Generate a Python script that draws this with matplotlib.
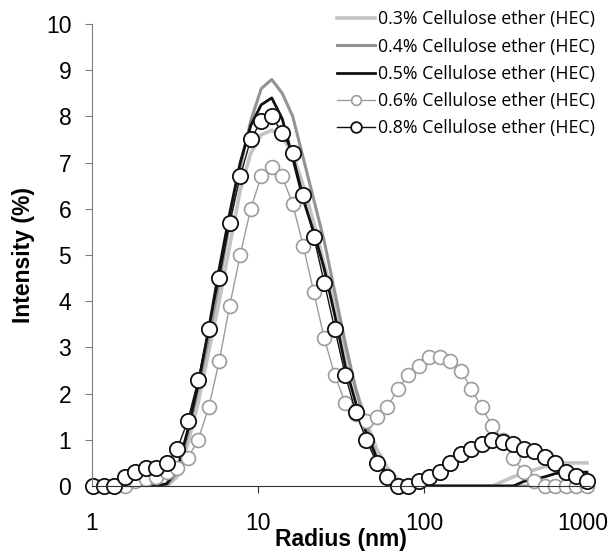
import matplotlib
matplotlib.use('Agg')
import matplotlib.pyplot as plt
import matplotlib.transforms as mtransforms

# size bins (radius, nm)
radius = [1.014, 1.173, 1.357, 1.570, 1.816, 2.101, 2.431, 2.812, 3.254, 3.764,
          4.355, 5.038, 5.829, 6.744, 7.802, 9.026, 10.44, 12.08, 13.98, 16.17,
          18.71, 21.64, 25.04, 28.97, 33.51, 38.77, 44.86, 51.90, 60.04, 69.46,
          80.35, 92.97, 107.5, 124.4, 143.9, 166.5, 192.7, 222.9, 257.9, 298.3,
          345.1, 399.3, 461.9, 534.4, 618.3, 715.3, 827.5, 957.4]

hec03 = [0, 0, 0, 0, 0, 0, 0, 0, 0.2, 0.9,
         1.8, 2.9, 4.0, 5.2, 6.4, 7.2, 7.6, 7.7, 7.55, 7.2,
         6.5, 5.7, 4.8, 3.9, 2.9, 2.1, 1.4, 0.8, 0.4, 0.15,
         0.05, 0, 0, 0, 0, 0, 0, 0, 0, 0.1,
         0.2, 0.28, 0.35, 0.42, 0.47, 0.5, 0.5, 0.5]
hec04 = [0, 0, 0, 0, 0, 0, 0, 0, 0.3, 1.1,
         2.1, 3.2, 4.4, 5.7, 6.9, 7.9, 8.6, 8.8, 8.5, 8.0,
         7.1, 6.2, 5.3, 4.2, 3.1, 2.1, 1.3, 0.6, 0.2, 0.05,
         0, 0, 0, 0, 0, 0, 0, 0, 0, 0,
         0, 0, 0, 0, 0, 0, 0, 0]
hec05 = [0, 0, 0, 0, 0, 0, 0, 0.05, 0.35, 1.2,
         2.2, 3.4, 4.7, 5.9, 7.0, 7.8, 8.25, 8.4, 7.95, 7.1,
         6.2, 5.5, 4.7, 3.7, 2.6, 1.8, 1.15, 0.6, 0.25, 0.08,
         0, 0, 0, 0, 0, 0, 0, 0, 0, 0,
         0, 0.1, 0.15, 0.2, 0.27, 0.3, 0.3, 0.3]
hec06 = [0, 0, 0, 0, 0.1, 0.15, 0.2, 0.3, 0.4, 0.6,
         1.0, 1.7, 2.7, 3.9, 5.0, 6.0, 6.7, 6.9, 6.7, 6.1,
         5.2, 4.2, 3.2, 2.4, 1.8, 1.55, 1.4, 1.5, 1.7, 2.1,
         2.4, 2.6, 2.8, 2.8, 2.7, 2.5, 2.1, 1.7, 1.3, 1.0,
         0.6, 0.3, 0.1, 0, 0, 0, 0, 0]
hec08 = [0, 0, 0, 0.2, 0.3, 0.4, 0.4, 0.5, 0.8, 1.4,
         2.3, 3.4, 4.5, 5.7, 6.7, 7.5, 7.9, 8.0, 7.65, 7.2,
         6.3, 5.4, 4.4, 3.4, 2.4, 1.6, 1.0, 0.5, 0.2, 0,
         0, 0.1, 0.2, 0.3, 0.5, 0.7, 0.8, 0.9, 1.0, 0.95,
         0.9, 0.8, 0.75, 0.63, 0.5, 0.3, 0.22, 0.1]

labels = ['0.3% Cellulose ether (HEC)', '0.4% Cellulose ether (HEC)',
          '0.5% Cellulose ether (HEC)', '0.6% Cellulose ether (HEC)',
          '0.8% Cellulose ether (HEC)']

plt.rcParams['font.family'] = ['Liberation Sans', 'DejaVu Sans']

fig = plt.figure(figsize=(6.14, 5.54), dpi=100)
ax = fig.add_axes([0.150, 0.1227, 0.811, 0.834])

ax.plot(radius, hec03, color='#c4c4c4', lw=2.6, label=labels[0])
ax.plot(radius, hec04, color='#939393', lw=2.2, label=labels[1])
ax.plot(radius, hec05, color='#111111', lw=2.0, label=labels[2])
ax.plot(radius, hec06, color='#9c9c9c', lw=1.0, marker='o', ms=10,
        mfc='white', mec='#9c9c9c', mew=1.2, clip_on=False, label=labels[3])
ax.plot(radius, hec08, color='#111111', lw=1.0, marker='o', ms=11,
        mfc='white', mec='#111111', mew=1.3, clip_on=False, label=labels[4])

ax.set_xscale('log')
ax.set_xlim(1, 1000)
ax.set_ylim(0, 10)
ax.set_yticks(range(0, 11))
ax.set_xticks([1, 10, 100, 1000])
ax.set_xticklabels(['1', '10', '100', '1000'])
ax.minorticks_off()

for s in ['top', 'right']:
    ax.spines[s].set_visible(False)
ax.spines['left'].set_color('#7f7f7f')
ax.spines['bottom'].set_color('#333333')
ax.tick_params(axis='y', direction='out', length=5, color='#7f7f7f',
               labelsize=16.5, pad=10)
ax.tick_params(axis='x', direction='out', length=5, color='#333333',
               labelsize=16.5, pad=14)

# last x label sits a bit left so it stays inside the figure
last = ax.get_xticklabels()[-1]
last.set_transform(last.get_transform() +
                   mtransforms.ScaledTranslation(-7 / 100, 0, fig.dpi_scale_trans))

ax.set_xlabel('Radius (nm)', fontsize=16.5, fontweight='bold', labelpad=-5)
ax.set_ylabel('Intensity (%)', fontsize=16.5, fontweight='bold', labelpad=8)

leg = ax.legend(loc='upper right', bbox_to_anchor=(1.025, 1.045), frameon=False,
                prop={'family': 'Open Sans', 'size': 12.8},
                handlelength=2.1, handletextpad=0.2, labelspacing=0.52,
                markerscale=0.7, borderaxespad=0)

fig.savefig('out.png', dpi=100)
